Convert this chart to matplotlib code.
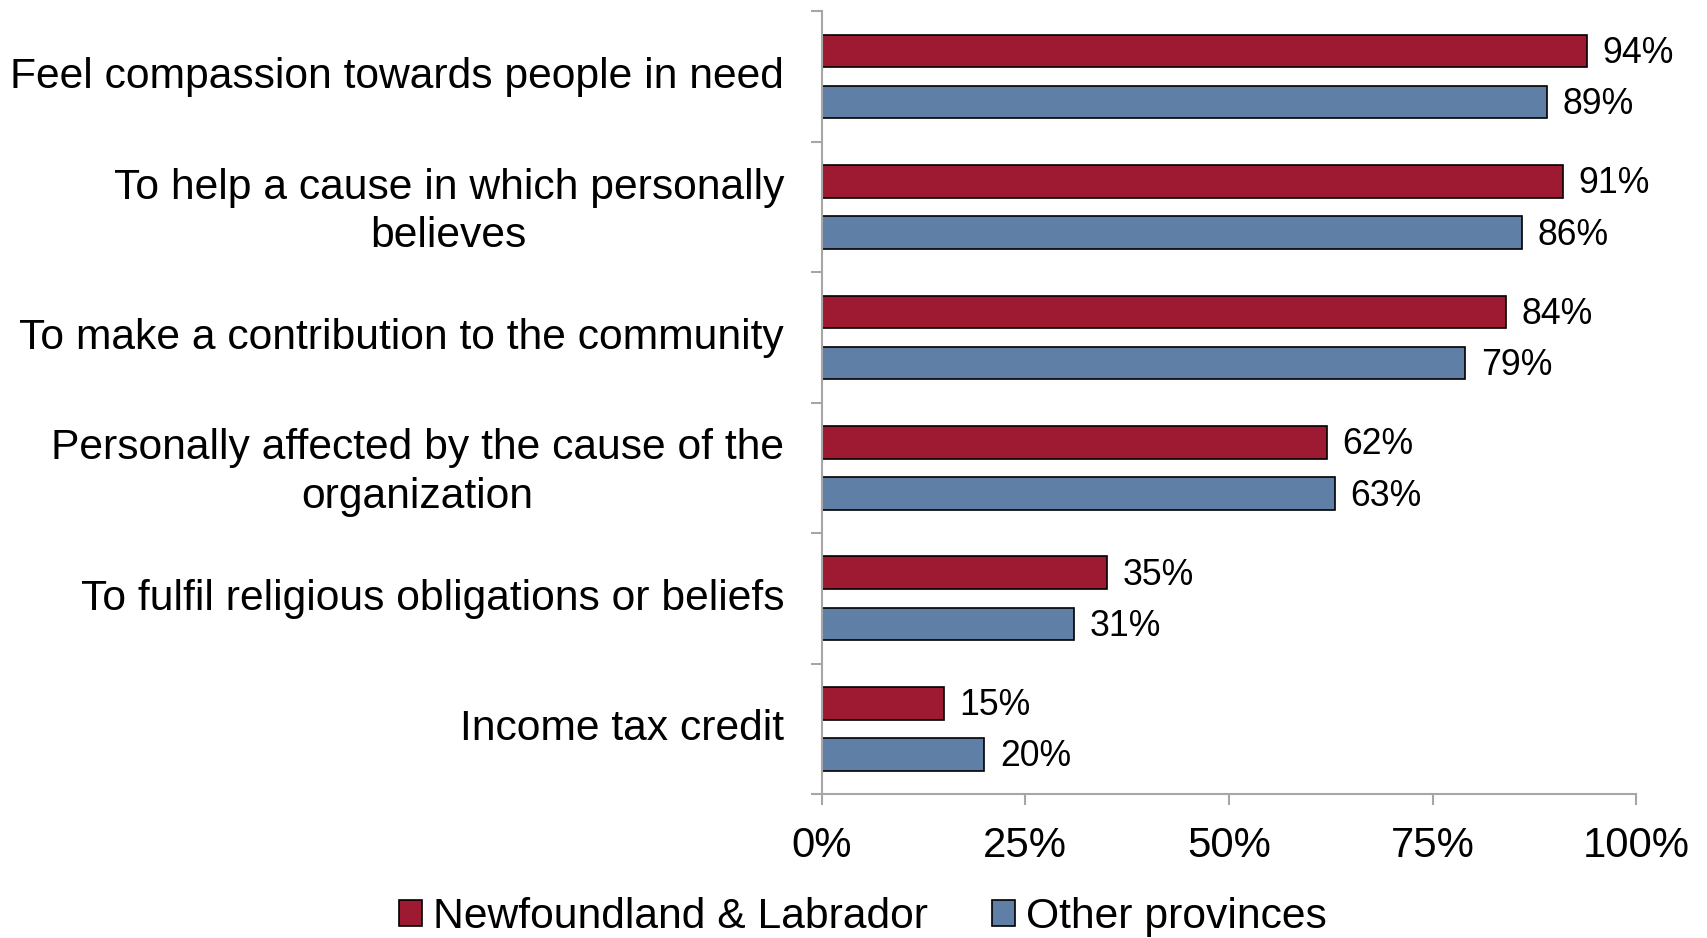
import matplotlib.pyplot as plt
import numpy as np

plt.rcParams['font.family'] = ['Liberation Sans', 'DejaVu Sans']

# Data (top to bottom)
categories = [
    "Feel compassion towards people in need",
    "To help a cause in which personally\nbelieves",
    "To make a contribution to the community",
    "Personally affected by the cause of the\norganization",
    "To fulfil religious obligations or beliefs",
    "Income tax credit",
]
nl_values = [94, 91, 84, 62, 35, 15]
other_values = [89, 86, 79, 63, 31, 20]
series_names = ["Newfoundland & Labrador", "Other provinces"]
x_ticks = [0, 25, 50, 75, 100]

red = '#9E1A32'
blue = '#5F7FA7'
grey = '#A6A6A6'

fig = plt.figure(figsize=(17.08, 9.38), dpi=100)
ax = fig.add_axes([0.481, 0.1535, 0.477, 0.8345])

y = np.arange(len(categories))
off = 0.196
h = 0.25
b1 = ax.barh(y - off, nl_values, height=h, color=red, edgecolor='black', linewidth=1.2,
             label=series_names[0])
b2 = ax.barh(y + off, other_values, height=h, color=blue, edgecolor='black', linewidth=1.2,
             label=series_names[1])

for bars, vals in ((b1, nl_values), (b2, other_values)):
    for bar, v in zip(bars, vals):
        ax.text(v + 1.9, bar.get_y() + bar.get_height() / 2 + 0.02, f"{v}%",
                va='center', ha='left', fontsize=25.7)

ax.set_xlim(0, 100)
ax.set_ylim(len(categories) - 0.5, -0.5)

ax.set_xticks(x_ticks)
ax.set_xticklabels([f"{t}%" for t in x_ticks], fontsize=30.2)
ax.set_yticks(y - 0.03)
ax.set_yticklabels(categories, fontsize=30.7, multialignment='center', linespacing=1.27)
ax.set_yticks(np.arange(len(categories) + 1) - 0.5, minor=True)

ax.tick_params(axis='y', which='major', length=0, pad=27)
ax.tick_params(axis='y', which='minor', length=8, width=1.5, color=grey, direction='out')
ax.tick_params(axis='x', which='major', length=8, width=1.5, color=grey, direction='out', pad=15)

for s in ('top', 'right'):
    ax.spines[s].set_visible(False)
for s in ('left', 'bottom'):
    ax.spines[s].set_color(grey)
    ax.spines[s].set_linewidth(1.5)

leg = fig.legend(handles=[b1, b2], loc='center', bbox_to_anchor=(0.505, 0.022), ncol=2,
                 frameon=False, fontsize=30.7, handlelength=0.55, handleheight=0.55,
                 handletextpad=0.25, columnspacing=1.5)

fig.savefig('out.png', dpi=100)
